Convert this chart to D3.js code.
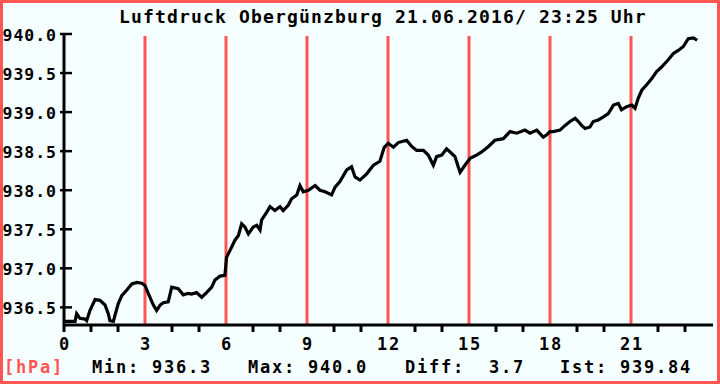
<!DOCTYPE html>
<html><head><meta charset="utf-8">
<script src="https://cdn.jsdelivr.net/npm/d3@7"></script>
<style>
html,body{margin:0;padding:0;background:#f5ffff;}
svg{display:block;}
text{font-family:"DejaVu Sans Mono",monospace;font-weight:bold;font-size:17px;letter-spacing:1.77px;}
</style></head>
<body>
<script>
const title = "Luftdruck Obergünzburg 21.06.2016/ 23:25 Uhr";
const hours = [0.00,0.04,0.41,0.47,0.59,0.78,0.84,0.96,1.15,1.33,1.52,1.64,1.70,1.83,1.89,2.01,2.14,2.32,2.51,2.70,2.88,3.00,3.12,3.31,3.43,3.56,3.68,3.86,3.99,4.23,4.42,4.60,4.73,4.91,5.10,5.28,5.47,5.59,5.78,5.96,6.02,6.15,6.33,6.46,6.58,6.70,6.83,7.01,7.14,7.26,7.32,7.51,7.63,7.81,8.00,8.12,8.31,8.43,8.62,8.74,8.86,9.05,9.30,9.48,9.67,9.91,10.04,10.22,10.47,10.65,10.78,10.96,11.21,11.46,11.70,11.86,12.01,12.20,12.38,12.69,12.88,13.06,13.31,13.49,13.68,13.80,13.99,14.17,14.36,14.48,14.60,14.67,14.85,15.04,15.28,15.47,15.72,15.96,16.27,16.52,16.77,17.07,17.26,17.51,17.75,17.88,18.00,18.12,18.37,18.56,18.74,18.93,19.05,19.17,19.30,19.48,19.60,19.79,19.98,20.16,20.35,20.53,20.65,20.84,21.03,21.15,21.27,21.40,21.58,21.77,21.95,22.14,22.38,22.57,22.75,22.94,23.12,23.31,23.45];
const pressure = [936.33,936.32,936.32,936.42,936.36,936.35,936.33,936.46,936.60,936.59,936.53,936.42,936.33,936.32,936.40,936.55,936.65,936.72,936.80,936.82,936.81,936.78,936.68,936.53,936.46,936.53,936.56,936.57,936.76,936.74,936.66,936.68,936.67,936.69,936.63,936.69,936.76,936.85,936.90,936.91,937.14,937.23,937.36,937.42,937.57,937.53,937.44,937.53,937.55,937.49,937.62,937.72,937.79,937.74,937.79,937.74,937.81,937.89,937.94,938.06,937.98,938.00,938.06,938.00,937.98,937.94,938.04,938.11,938.26,938.30,938.17,938.13,938.21,938.32,938.37,938.55,938.60,938.55,938.61,938.64,938.56,938.51,938.51,938.45,938.32,938.43,938.45,938.53,938.47,938.43,938.30,938.23,938.32,938.41,938.45,938.49,938.56,938.64,938.66,938.75,938.73,938.77,938.73,938.77,938.68,938.71,938.75,938.75,938.77,938.83,938.88,938.92,938.88,938.83,938.79,938.81,938.88,938.90,938.94,938.98,939.09,939.11,939.03,939.07,939.09,939.05,939.18,939.28,939.35,939.43,939.52,939.58,939.67,939.75,939.79,939.84,939.94,939.95,939.92];
const yTicks = [936.5,937.0,937.5,938.0,938.5,939.0,939.5,940.0];
const xMajor = [0,3,6,9,12,15,18,21];
const xRed = [3,6,9,12,15,18,21];
const xMinor = [1,2,4,5,7,8,10,11,13,14,16,17,19,20,22,23];
const unitLabel = "[hPa]";
const stats = [["Min: 936.3",92],["Max: 940.0",248],["Diff:  3.7",405],["Ist: 939.84",560]];

const W=720,H=384, RED="#ff5555";
const svg=d3.select("body").append("svg").attr("width",W).attr("height",H);
svg.append("rect").attr("width",W).attr("height",H).attr("fill","#f5ffff");

const x=d3.scaleLinear().domain([0,24]).range([64,712]);
const y=d3.scaleLinear().domain([936.3,940]).range([323,34]);
const axisY=325;

// red hour lines
svg.selectAll("line.red").data(xRed).enter().append("line")
  .attr("x1",d=>x(d)).attr("x2",d=>x(d)).attr("y1",36).attr("y2",axisY)
  .attr("stroke",RED).attr("stroke-width",3);

// x axis
svg.append("line").attr("x1",x(0)).attr("x2",x(24)+1).attr("y1",axisY).attr("y2",axisY)
  .attr("stroke","#000").attr("stroke-width",3);
svg.selectAll("line.minor").data(xMinor).enter().append("line")
  .attr("x1",d=>x(d)).attr("x2",d=>x(d)).attr("y1",axisY).attr("y2",332)
  .attr("stroke","#000").attr("stroke-width",3);
svg.selectAll("text.xl").data(xMajor).enter().append("text")
  .attr("x",d=>x(d)+1).attr("y",350).attr("text-anchor","middle").text(d=>d);

// y axis
svg.append("line").attr("x1",x(0)).attr("x2",x(0)).attr("y1",y(940)-1).attr("y2",332)
  .attr("stroke","#000").attr("stroke-width",3);
svg.selectAll("line.yt").data(yTicks).enter().append("line")
  .attr("x1",60).attr("x2",72).attr("y1",d=>y(d)).attr("y2",d=>y(d))
  .attr("stroke","#000").attr("stroke-width",2.5);

// data line
const line=d3.line().x((d,i)=>x(hours[i])).y(d=>y(d));
svg.append("path").datum(pressure).attr("d",line).attr("fill","none")
  .attr("stroke","#000").attr("stroke-width",3.2).attr("stroke-linejoin","miter");

// title
svg.append("text").attr("x",119).attr("y",23).style("font-size","18px").style("letter-spacing","1.16px").text(title);

// border
svg.append("rect").attr("x",1.5).attr("y",1.5).attr("width",W-3).attr("height",H-3)
  .attr("fill","none").attr("stroke",RED).attr("stroke-width",3);

// y labels (drawn over border like the reference)
svg.selectAll("text.yl").data(yTicks).enter().append("text")
  .attr("x",57).attr("y",d=>y(d)+6.5).attr("text-anchor","end")
  .style("font-size","16.5px").style("letter-spacing","0.95px").text(d=>d.toFixed(1));

// bottom
svg.append("text").attr("x",4).attr("y",373).attr("fill",RED).text(unitLabel);
svg.selectAll("text.st").data(stats).enter().append("text")
  .attr("x",d=>d[1]).attr("y",373).attr("xml:space","preserve").style("white-space","pre").text(d=>d[0]);
</script>
</body></html>
